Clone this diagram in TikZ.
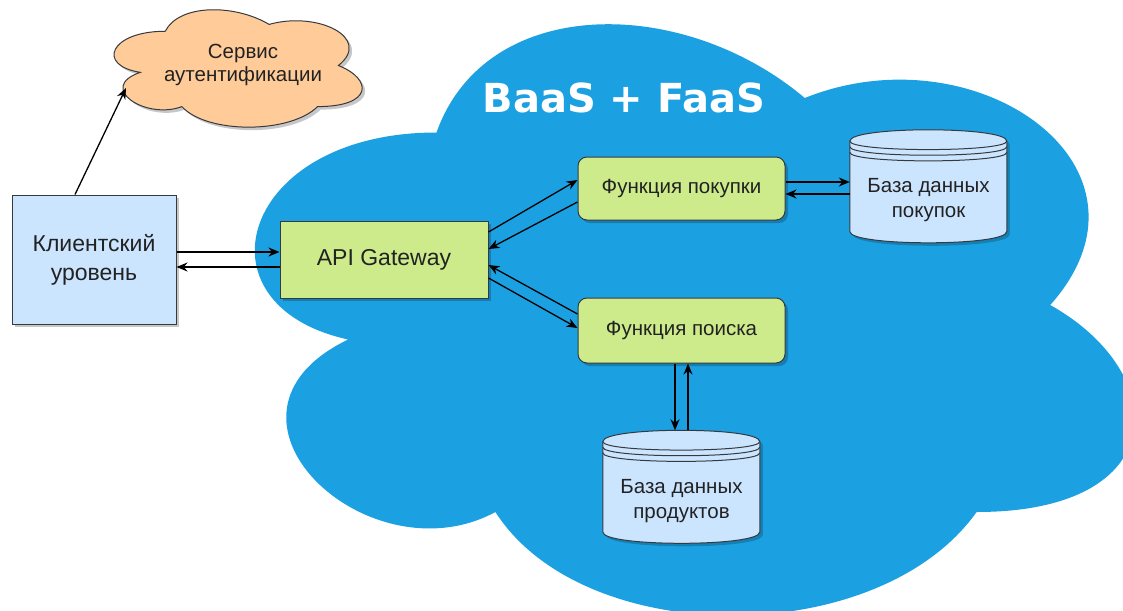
\documentclass[tikz,border=0pt]{standalone}
\usepackage{fontspec}
\setmainfont{Liberation Sans}
\newfontfamily\titlefont{DejaVu Sans}
\usetikzlibrary{arrows.meta,calc}
\definecolor{cloudblue}{HTML}{1BA1E2}
\definecolor{boxgreen}{HTML}{CDEB8B}
\definecolor{boxblue}{HTML}{CCE5FF}
\definecolor{authorange}{HTML}{FFCC99}
\definecolor{strokegray}{HTML}{36393D}
\definecolor{textgray}{HTML}{222222}
\newcommand\mxcloud{(0.25,0.25) .. controls (0.05,0.25) and (0,0.5) .. (0.16,0.55) .. controls (0,0.66) and (0.18,0.9) .. (0.31,0.8) .. controls (0.4,1) and (0.7,1) .. (0.8,0.8) .. controls (1,0.8) and (1,0.6) .. (0.875,0.5) .. controls (1,0.3) and (0.8,0.1) .. (0.625,0.2) .. controls (0.5,0.05) and (0.3,0.05) .. (0.25,0.25) -- cycle}
\newcommand\dbbody{(0,0.1) .. controls (0,-0.0333) and (1,-0.0333) .. (1,0.1) -- (1,0.9) .. controls (1,1.0333) and (0,1.0333) .. (0,0.9) -- cycle}
\newcommand\dbcyl[1]{%
  \begin{scope}[shift={(#1.north west)},x=157pt,y=-113pt]
    \fill[black,fill opacity=0.2,transform canvas={xshift=3pt,yshift=-3pt}] \dbbody;
    \filldraw[fill=boxblue,draw=strokegray,line width=1pt] \dbbody;
    \draw[strokegray,line width=1pt] (0,0.1) .. controls (0,0.2) and (1,0.2) .. (1,0.1)
      (0,0.15) .. controls (0,0.25) and (1,0.25) .. (1,0.15)
      (0,0.2) .. controls (0,0.3) and (1,0.3) .. (1,0.2);
  \end{scope}}
\begin{document}
\begin{tikzpicture}[x=1pt,y=-1pt,
  txt/.style={text=textgray, align=center, inner sep=0pt, font=\fontsize{20.5}{25}\selectfont},
  shad/.style={preaction={fill=black,fill opacity=0.22,draw=none,transform canvas={xshift=3pt,yshift=-3pt}}},
  sqbox/.style={draw=strokegray, line width=1pt, shad, inner sep=0pt, text=textgray, align=center, font=\fontsize{23}{29}\selectfont},
  fnbox/.style={draw=strokegray, line width=1pt, fill=boxgreen, shad, rounded corners=9pt, minimum width=207pt, inner sep=0pt, text=textgray, font=\fontsize{20.5}{25}\selectfont},
  dbbox/.style={minimum width=157pt, minimum height=113pt, inner sep=0pt},
  arr/.style={draw=black, line width=1.3pt, -{Stealth[length=11pt,width=9pt,inset=3.5pt]}}
]
\useasboundingbox (0,0) rectangle (1123,610);
\clip (0,0) rectangle (1123,610);
\fill[white] (0,0) rectangle (1123,610);

% big cloud
\begin{scope}[shift={(191,-40)},x=982pt,y=-690pt]
  \fill[cloudblue] \mxcloud;
\end{scope}
\node[font=\titlefont\bfseries\fontsize{40}{48}\selectfont, text=white, inner sep=0pt] (title) at (624,98) {BaaS + FaaS};

% auth cloud
\begin{scope}[shift={(96,-3)},x=277pt,y=-137pt]
  \fill[black,fill opacity=0.22,transform canvas={xshift=3pt,yshift=-3pt}] \mxcloud;
  \filldraw[fill=authorange,draw=strokegray,line width=1pt] \mxcloud;
\end{scope}
\node[txt, font=\fontsize{20.5}{23}\selectfont] (auth) at (243,65) {Сервис\\аутентификации};

% boxes
\node[sqbox, fill=boxblue, minimum width=164pt, minimum height=129pt] (client) at (94,259.5) {Клиентский\\уровень};
\node[sqbox, fill=boxgreen, minimum width=208pt, minimum height=77pt] (api) at (384,259.5) {API Gateway};
\node[fnbox, minimum height=63pt] (f1) at (681.5,188.5) {Функция покупки};
\node[fnbox, minimum height=65pt] (f2) at (681.5,330.5) {Функция поиска};

% databases
\node[dbbox] (db1) at (928.5,186.5) {};
\node[dbbox] (db2) at (681.5,487) {};
\dbcyl{db1}
\dbcyl{db2}
\node[txt] (db1t) at ($(db1)+(0,14)$) {База данных\\покупок};
\node[txt] (db2t) at ($(db2)+(0,14)$) {База данных\\продуктов};

% connectors
\coordinate (authin) at (126,88);
\draw[arr] ($(client.north)+(-19,0)$) -- (authin);
\draw[arr] ($(client.east)+(0,-7.5)$) -- ($(api.west)+(0,-7.5)$);
\draw[arr] ($(api.west)+(0,7.5)$) -- ($(client.east)+(0,7.5)$);
\draw[arr] ($(api.east)+(0,-27.5)$) -- ($(f1.west)+(0,-8.5)$);
\draw[arr] ($(f1.west)+(0,13.5)$) -- ($(api.east)+(0,-10.5)$);
\draw[arr] ($(f2.west)+(0,-16.5)$) -- ($(api.east)+(0,5.5)$);
\draw[arr] ($(api.east)+(0,18.5)$) -- ($(f2.west)+(0,-2.5)$);
\draw[arr] ($(f1.east)+(0,-6.5)$) -- ($(db1.west)+(0,-4.5)$);
\draw[arr] ($(db1.west)+(0,7.5)$) -- ($(f1.east)+(0,5.5)$);
\draw[arr] ($(f2.south)+(-6.5,0)$) -- ($(db2.north)+(-6.5,0)$);
\draw[arr] ($(db2.north)+(6.5,0)$) -- ($(f2.south)+(6.5,0)$);
\end{tikzpicture}
\end{document}
